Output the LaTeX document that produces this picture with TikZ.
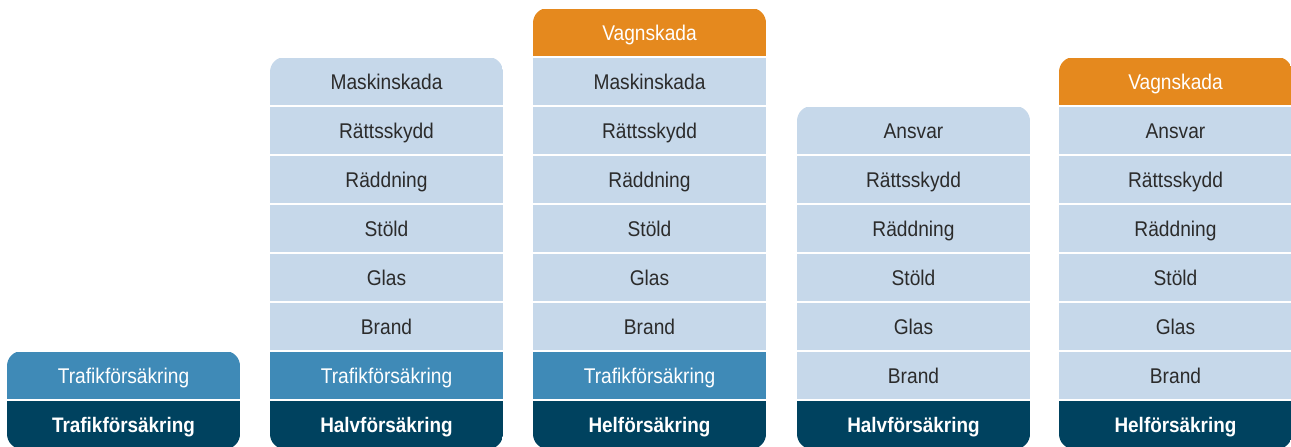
\documentclass[tikz,border=0pt]{standalone}
\usepackage{fontspec}
\setmainfont[FakeStretch=0.9]{Liberation Sans}
\definecolor{lightc}{HTML}{C6D8EA}
\definecolor{midc}{HTML}{3F8AB7}
\definecolor{darkc}{HTML}{00425F}
\definecolor{orangec}{HTML}{E5891E}
\definecolor{txtc}{HTML}{2B2B2B}
\tikzset{
  cellbase/.style={rectangle, inner sep=0pt, outer sep=0pt, minimum width=233pt, minimum height=47pt, text height=15pt, text depth=0pt, anchor=north west, font=\fontsize{21.3}{24}\selectfont},
  lightcell/.style={cellbase, fill=lightc, text=txtc},
  midcell/.style={cellbase, fill=midc, text=white},
  darkcell/.style={cellbase, fill=darkc, text=white, font=\fontsize{21}{24}\selectfont\bfseries},
  orangecell/.style={cellbase, fill=orangec, text=white},
}
\newcommand\cell[5]{\node[#4] (#1) at (#2, {8+49*#3+1}) {#5};}
\newcommand\colclip[2]{\clip[rounded corners=15pt] (#1, {8+49*#2}) rectangle ({#1+233}, 449);}
\begin{document}
\begin{tikzpicture}[x=1pt,y=-1pt]
\useasboundingbox[fill=white] (0,0) rectangle (1291,447);
% column 1
\begin{scope}
\colclip{7}{7}
\cell{a1}{7}{7}{midcell}{Trafikförsäkring}
\cell{a2}{7}{8}{darkcell}{Trafikförsäkring}
\end{scope}
% column 2
\begin{scope}
\colclip{270}{1}
\cell{b1}{270}{1}{lightcell}{Maskinskada}
\cell{b2}{270}{2}{lightcell}{Rättsskydd}
\cell{b3}{270}{3}{lightcell}{Räddning}
\cell{b4}{270}{4}{lightcell}{Stöld}
\cell{b5}{270}{5}{lightcell}{Glas}
\cell{b6}{270}{6}{lightcell}{Brand}
\cell{b7}{270}{7}{midcell}{Trafikförsäkring}
\cell{b8}{270}{8}{darkcell}{Halvförsäkring}
\end{scope}
% column 3
\begin{scope}
\colclip{533}{0}
\cell{c0}{533}{0}{orangecell}{Vagnskada}
\cell{c1}{533}{1}{lightcell}{Maskinskada}
\cell{c2}{533}{2}{lightcell}{Rättsskydd}
\cell{c3}{533}{3}{lightcell}{Räddning}
\cell{c4}{533}{4}{lightcell}{Stöld}
\cell{c5}{533}{5}{lightcell}{Glas}
\cell{c6}{533}{6}{lightcell}{Brand}
\cell{c7}{533}{7}{midcell}{Trafikförsäkring}
\cell{c8}{533}{8}{darkcell}{Helförsäkring}
\end{scope}
% column 4
\begin{scope}
\colclip{797}{2}
\cell{d2}{797}{2}{lightcell}{Ansvar}
\cell{d3}{797}{3}{lightcell}{Rättsskydd}
\cell{d4}{797}{4}{lightcell}{Räddning}
\cell{d5}{797}{5}{lightcell}{Stöld}
\cell{d6}{797}{6}{lightcell}{Glas}
\cell{d7}{797}{7}{lightcell}{Brand}
\cell{d8}{797}{8}{darkcell}{Halvförsäkring}
\end{scope}
% column 5
\begin{scope}
\colclip{1059}{1}
\cell{e1}{1059}{1}{orangecell}{Vagnskada}
\cell{e2}{1059}{2}{lightcell}{Ansvar}
\cell{e3}{1059}{3}{lightcell}{Rättsskydd}
\cell{e4}{1059}{4}{lightcell}{Räddning}
\cell{e5}{1059}{5}{lightcell}{Stöld}
\cell{e6}{1059}{6}{lightcell}{Glas}
\cell{e7}{1059}{7}{lightcell}{Brand}
\cell{e8}{1059}{8}{darkcell}{Helförsäkring}
\end{scope}
\end{tikzpicture}
\end{document}
